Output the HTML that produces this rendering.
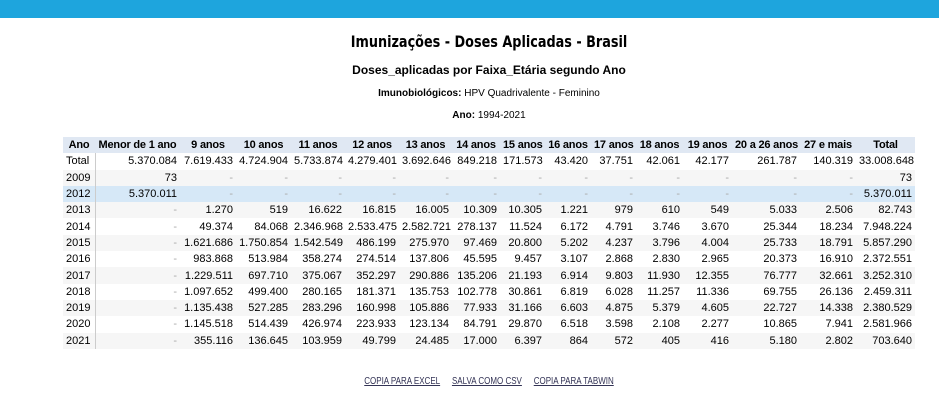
<!DOCTYPE html>
<html><head><meta charset="utf-8">
<style>
body{margin:0;width:939px;height:406px;background:#fff;font-family:"Liberation Sans",Arial,sans-serif;position:relative;overflow:hidden}
#bar{position:absolute;left:0;top:0;width:939px;height:18px;background:#1ea5dd}
.t{position:absolute;left:0;width:978px;text-align:center;color:#000}
#t1{top:32px;font-size:16px;font-weight:bold;font-family:"DejaVu Sans Condensed","Liberation Sans",sans-serif;transform:scaleX(0.89);transform-origin:489px 0}
#t2{top:63px;font-size:12px;font-weight:bold}
#t3{top:88px;font-size:10px}
#t4{top:110px;font-size:10px}
table{position:absolute;left:63px;top:137px;border-collapse:collapse;font-size:11px;table-layout:fixed;width:852px}
td,th{height:16.3px;padding:0 3px;white-space:nowrap;text-align:right;overflow:hidden}
th{background:#e0e8f3;font-weight:bold;text-align:center;letter-spacing:-0.2px}
td:first-child{text-align:left;border-right:1px solid #ccc}
tr.odd td{background:#f6f6f6}
tr.hl td{background:#d6e8f7}
.d{color:#aaa}
#links{position:absolute;top:376px;left:0;width:978px;text-align:center;font-size:10px;transform:scaleX(0.8);transform-origin:489px 0}
#links a{color:#335;text-decoration:underline;margin:0 6px}
</style></head><body>
<div id="bar"></div>
<div class="t" id="t1">Imunizações - Doses Aplicadas - Brasil</div>
<div class="t" id="t2">Doses_aplicadas por Faixa_Etária segundo Ano</div>
<div class="t" id="t3"><b>Imunobiológicos:</b> HPV Quadrivalente - Feminino</div>
<div class="t" id="t4"><b>Ano:</b> 1994-2021</div>
<table id="tbl"></table>
<div id="links">
<a>COPIA PARA EXCEL</a>
<a>SALVA COMO CSV</a>
<a>COPIA PARA TABWIN</a>
</div>
<script>
const columns=["Ano","Menor de 1 ano","9 anos","10 anos","11 anos","12 anos","13 anos","14 anos","15 anos","16 anos","17 anos","18 anos","19 anos","20 a 26 anos","27 e mais","Total"];
const colWidths=[32,85,56,55,54,54,53,48,45,46,45,47,49,68,56,59];
const rowLabels=["Total","2009","2012","2013","2014","2015","2016","2017","2018","2019","2020","2021"];
const r0=["5.370.084","7.619.433","4.724.904","5.733.874","4.279.401","3.692.646","849.218","171.573","43.420","37.751","42.061","42.177","261.787","140.319","33.008.648"];
const r1=["73","-","-","-","-","-","-","-","-","-","-","-","-","-","73"];
const r2=["5.370.011","-","-","-","-","-","-","-","-","-","-","-","-","-","5.370.011"];
const r3=["-","1.270","519","16.622","16.815","16.005","10.309","10.305","1.221","979","610","549","5.033","2.506","82.743"];
const r4=["-","49.374","84.068","2.346.968","2.533.475","2.582.721","278.137","11.524","6.172","4.791","3.746","3.670","25.344","18.234","7.948.224"];
const r5=["-","1.621.686","1.750.854","1.542.549","486.199","275.970","97.469","20.800","5.202","4.237","3.796","4.004","25.733","18.791","5.857.290"];
const r6=["-","983.868","513.984","358.274","274.514","137.806","45.595","9.457","3.107","2.868","2.830","2.965","20.373","16.910","2.372.551"];
const r7=["-","1.229.511","697.710","375.067","352.297","290.886","135.206","21.193","6.914","9.803","11.930","12.355","76.777","32.661","3.252.310"];
const r8=["-","1.097.652","499.400","280.165","181.371","135.753","102.778","30.861","6.819","6.028","11.257","11.336","69.755","26.136","2.459.311"];
const r9=["-","1.135.438","527.285","283.296","160.998","105.886","77.933","31.166","6.603","4.875","5.379","4.605","22.727","14.338","2.380.529"];
const r10=["-","1.145.518","514.439","426.974","223.933","123.134","84.791","29.870","6.518","3.598","2.108","2.277","10.865","7.941","2.581.966"];
const r11=["-","355.116","136.645","103.959","49.799","24.485","17.000","6.397","864","572","405","416","5.180","2.802","703.640"];
const rows=[r0,r1,r2,r3,r4,r5,r6,r7,r8,r9,r10,r11];
const tbl=document.getElementById('tbl');
const cg=document.createElement('colgroup');
colWidths.forEach(w=>{const c=document.createElement('col');c.style.width=w+'px';cg.appendChild(c);});
tbl.appendChild(cg);
const hr=document.createElement('tr');


columns.forEach(c=>{const th=document.createElement('th');th.textContent=c;


hr.appendChild(th);});
tbl.appendChild(hr);
rowLabels.forEach((lab,i)=>{
 const tr=document.createElement('tr');
 
 
 if(lab==="2012")tr.className='hl';else if(i%2===1)tr.className='odd';
 const td0=document.createElement('td');td0.textContent=lab;
 
 
 tr.appendChild(td0);
 rows[i].forEach(v=>{const td=document.createElement('td');td.textContent=v;if(v==='-')td.className='d';
 
 
 tr.appendChild(td);});
 tbl.appendChild(tr);
});
</script>
</body></html>
